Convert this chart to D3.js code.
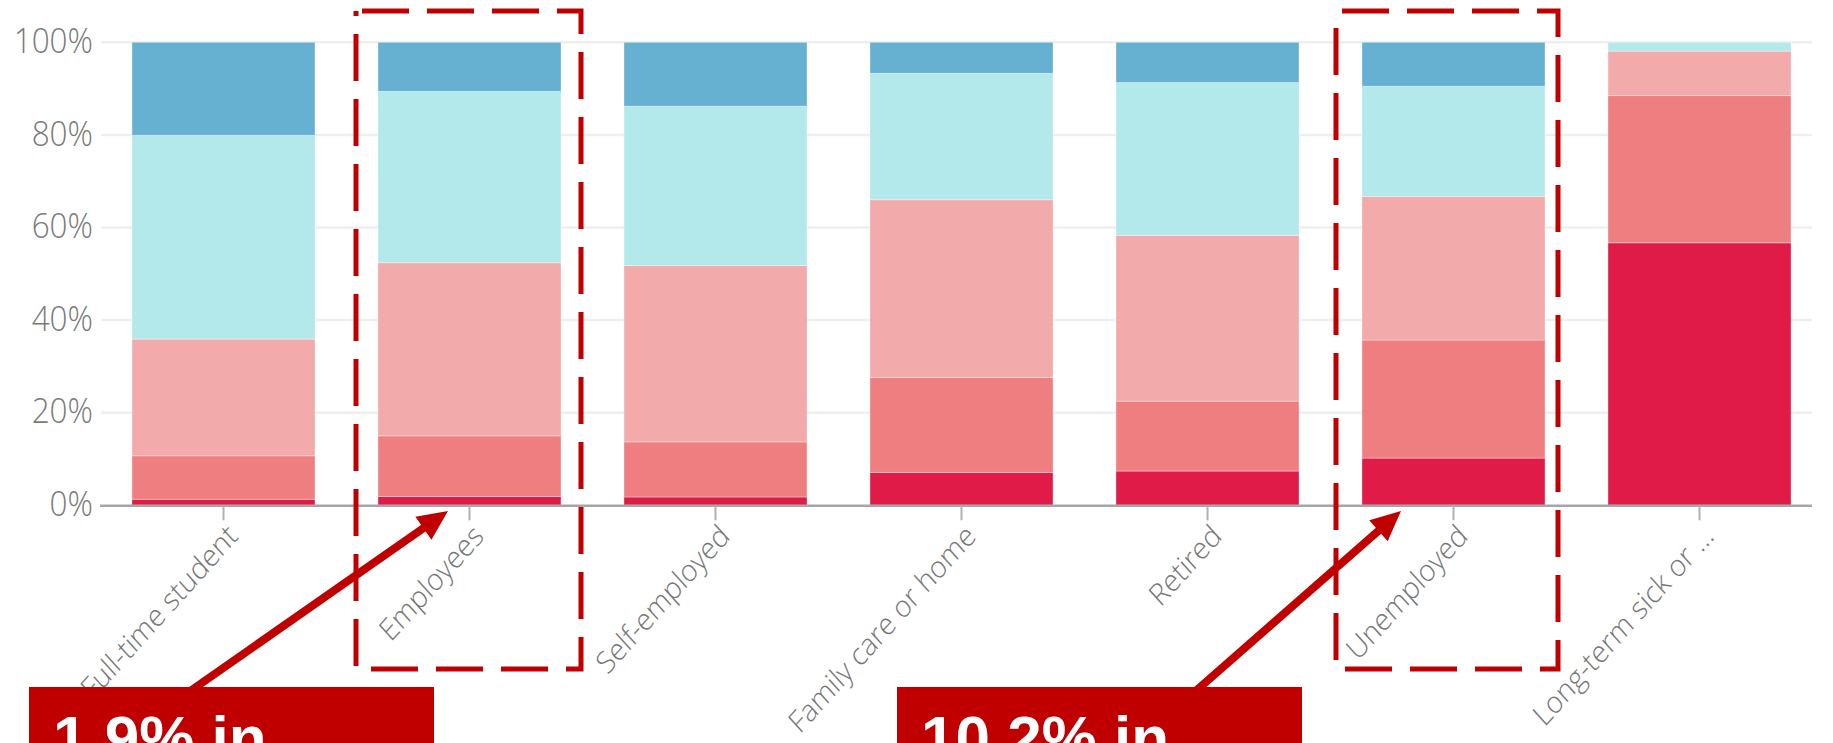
<!DOCTYPE html>
<html>
<head>
<meta charset="utf-8">
<script src="https://cdn.jsdelivr.net/npm/d3@7"></script>
<style>
  body { margin: 0; background: #fff; overflow: hidden; }
  svg { display: block; }
</style>
</head>
<body>
<svg id="chart"></svg>
<script>
let w = 1833;
let h = 743;

// categories along the x axis
const categories = ["Full-time student", "Employees", "Self-employed", "Family care or home", "Retired", "Unemployed", "Long-term sick or \u2026"];

// share of each group in percent, stacked bottom to top
const veryLow  = [1.3, 1.9, 1.8, 7.1, 7.4, 10.2, 56.7];
const low      = [9.4, 13.1, 11.9, 20.5, 15.1, 25.5, 31.8];
const medium   = [25.2, 37.4, 38.1, 38.4, 35.8, 31.0, 9.6];
const high     = [44.0, 37.0, 34.4, 27.3, 33.0, 23.8, 1.9];
const veryHigh = [20.1, 10.6, 13.8, 6.7, 8.7, 9.5, 0];

const seriesNames = ["veryLow", "low", "medium", "high", "veryHigh"];
const seriesColors = ["#e01b47", "#ef7e80", "#f3aaab", "#b4e9ec", "#66b0d1"];

const yTicks = [0, 20, 40, 60, 80, 100];

// annotation callouts
const notes = [
    { text: "1.9% in", box: 0 },
    { text: "10.2% in", box: 1 }
];

const svg = d3.select('#chart')
    .attr('width', w)
    .attr('height', h);

const x = d3.scaleBand()
    .domain(categories)
    .range([100, 1823])
    .paddingInner(0.256)
    .paddingOuter(0.13);

const y = d3.scaleLinear()
    .domain([0, 100])
    .range([505.3, 42.3]);

const gridRight = 1812;

// table for the stack
const table = categories.map((c, i) => ({
    cat: c,
    veryLow: veryLow[i],
    low: low[i],
    medium: medium[i],
    high: high[i],
    veryHigh: veryHigh[i]
}));

const stack = d3.stack().keys(seriesNames)(table);

// gridlines
svg.append('g')
    .selectAll('line')
    .data(yTicks.filter(t => t > 0))
    .enter()
    .append('line')
    .attr('x1', 101)
    .attr('x2', gridRight)
    .attr('y1', d => y(d))
    .attr('y2', d => y(d))
    .style('stroke', '#edf0ec')
    .style('stroke-width', 2.5);

// y labels
svg.append('g')
    .selectAll('text')
    .data(yTicks)
    .enter()
    .append('text')
    .attr('transform', d => `translate(93,${y(d) - 1.5}) scale(0.9,1)`)
    .attr('dy', '0.35em')
    .style('text-anchor', 'end')
    .style('font-family', '"Open Sans", sans-serif')
    .style('font-weight', 300)
    .style('font-size', '35px')
    .style('fill', '#7a7a7a')
    .text(d => d + '%');

// bars
svg.append('g')
    .selectAll('g')
    .data(stack)
    .enter()
    .append('g')
    .style('fill', (d, i) => seriesColors[i])
    .selectAll('rect')
    .data(d => d)
    .enter()
    .append('rect')
    .attr('x', d => x(d.data.cat))
    .attr('width', x.bandwidth())
    .attr('y', d => y(d[1]))
    .attr('height', d => y(d[0]) - y(d[1]))
    .style('stroke', 'rgba(255,255,255,0.35)')
    .style('stroke-width', 1);

// x axis line and ticks
svg.append('line')
    .attr('x1', 100)
    .attr('x2', gridRight)
    .attr('y1', y(0) + 0.5)
    .attr('y2', y(0) + 0.5)
    .style('stroke', '#a6a6a6')
    .style('stroke-width', 2.5);

svg.append('g')
    .selectAll('line')
    .data(categories)
    .enter()
    .append('line')
    .attr('x1', d => x(d) + x.bandwidth() / 2)
    .attr('x2', d => x(d) + x.bandwidth() / 2)
    .attr('y1', y(0) + 1)
    .attr('y2', y(0) + 15)
    .style('stroke', '#b0b0b0')
    .style('stroke-width', 2);

svg.append('g')
    .selectAll('text')
    .data(categories)
    .enter()
    .append('text')
    .attr('transform', d => `translate(${x(d) + x.bandwidth() / 2 + 9},${y(0) + 25}) scale(0.9,1) rotate(-45)`)
    .attr('dy', '0.35em')
    .style('text-anchor', 'end')
    .style('font-family', '"Open Sans", sans-serif')
    .style('font-weight', 300)
    .style('font-size', '30.5px')
    .style('fill', '#777')
    .text(d => d);

// dashed highlight boxes
const dashBoxes = [
    { x0: 356, x1: 581 },
    { x0: 1336, x1: 1558 }
];

svg.append('g')
    .selectAll('rect')
    .data(dashBoxes)
    .enter()
    .append('rect')
    .attr('x', d => d.x0)
    .attr('y', 11)
    .attr('width', d => d.x1 - d.x0)
    .attr('height', 658)
    .style('fill', 'none')
    .style('stroke', '#c00000')
    .style('stroke-width', 5)
    .style('stroke-dasharray', '47 18')
    .style('stroke-dashoffset', 59);

// arrows
const arrows = [
    { from: [186, 694], to: [448, 511] },
    { from: [1190, 696], to: [1401, 511] }
];

arrows.forEach(a => {
    const dx = a.to[0] - a.from[0];
    const dy = a.to[1] - a.from[1];
    const len = Math.sqrt(dx * dx + dy * dy);
    const ux = dx / len, uy = dy / len;
    const headLen = 30, headW = 14;
    const bx = a.to[0] - ux * headLen, by = a.to[1] - uy * headLen;
    svg.append('line')
        .attr('x1', a.from[0])
        .attr('y1', a.from[1])
        .attr('x2', bx + ux * 2)
        .attr('y2', by + uy * 2)
        .style('stroke', '#c00000')
        .style('stroke-width', 8);
    svg.append('polygon')
        .attr('points', [
            a.to,
            [bx - uy * headW, by + ux * headW],
            [bx + uy * headW, by - ux * headW]
        ].map(p => p.join(',')).join(' '))
        .style('fill', '#c00000');
});

// callout boxes (run off the bottom edge, as in the original slide)
const calloutX = [29, 897];

const callouts = svg.append('g')
    .selectAll('g')
    .data(notes)
    .enter()
    .append('g')
    .attr('transform', d => `translate(${calloutX[d.box]},687)`);

callouts.append('rect')
    .attr('width', 405)
    .attr('height', 120)
    .style('fill', '#c00000');

callouts.append('text')
    .attr('x', 24)
    .attr('y', 72)
    .style('font-family', '"Liberation Sans", Arial, sans-serif')
    .style('font-weight', 'bold')
    .style('font-size', '62px')
    .style('fill', '#fff')
    .text(d => d.text);
</script>
</body>
</html>
